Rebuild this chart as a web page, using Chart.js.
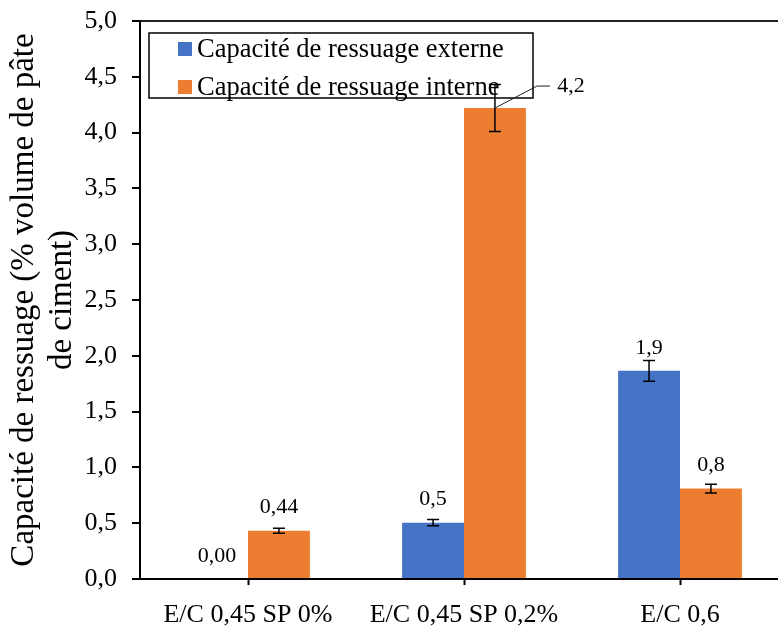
<!DOCTYPE html>
<html>
<head>
<meta charset="utf-8">
<script src="https://cdn.jsdelivr.net/npm/chart.js@4/dist/chart.umd.min.js"></script>
<style>
  html, body { margin: 0; padding: 0; background: #fff; overflow: hidden; }
  #wrap { width: 790px; height: 626px; }
</style>
</head>
<body>
<div id="wrap"><canvas id="bleeding" width="790" height="626"></canvas></div>
<script>
const categories = ["E/C 0,45 SP 0%", "E/C 0,45 SP 0,2%", "E/C 0,6"];
const seriesNames = ["Capacité de ressuage externe", "Capacité de ressuage interne"];

const externe = [0, 0.505, 1.865];
const interne = [0.433, 4.22, 0.81];
const externeErr = [0, 0.028, 0.093];
const interneErr = [0.022, 0.21, 0.04];
const externeLabels = ["0,00", "0,5", "1,9"];
const interneLabels = ["0,44", "4,2", "0,8"];

const yTicks = [0, 0.5, 1, 1.5, 2, 2.5, 3, 3.5, 4, 4.5, 5];

const serif = "'Liberation Serif', 'Times New Roman', serif";
const blue = "#4472C4";
const orange = "#ED7D31";

const errorsAndLabels = {
  id: "errorsAndLabels",
  afterDatasetsDraw(chart) {
    const ctx = chart.ctx;
    const y = chart.scales.y;
    const errs = [externeErr, interneErr];
    const labels = [externeLabels, interneLabels];

    ctx.save();
    chart.data.datasets.forEach((ds, di) => {
      const meta = chart.getDatasetMeta(di);
      meta.data.forEach((bar, i) => {
        const v = ds.data[i];
        const e = errs[di][i];
        const x = bar.x;
        // error bar
        if (e > 0) {
          const top = y.getPixelForValue(v + e);
          const bot = y.getPixelForValue(v - e);
          ctx.strokeStyle = "#000";
          ctx.lineWidth = 1.5;
          ctx.beginPath();
          ctx.moveTo(x, top);
          ctx.lineTo(x, bot);
          ctx.moveTo(x - 6, top);
          ctx.lineTo(x + 6, top);
          ctx.moveTo(x - 6, bot);
          ctx.lineTo(x + 6, bot);
          ctx.stroke();
        }
        // value label
        const barTop = y.getPixelForValue(v);
        ctx.fillStyle = "#000";
        ctx.font = "22px " + serif;
        ctx.textAlign = "center";
        ctx.textBaseline = "middle";
        if (di === 1 && i === 1) {
          // label moved aside with a leader line
          const ly = barTop - 22;
          ctx.strokeStyle = "#222";
          ctx.lineWidth = 1;
          ctx.beginPath();
          ctx.moveTo(x, barTop);
          ctx.lineTo(x + 42, ly);
          ctx.lineTo(x + 55, ly);
          ctx.stroke();
          ctx.fillText(labels[di][i], x + 76, ly);
        } else {
          ctx.fillText(labels[di][i], x, barTop - 23);
        }
      });
    });
    ctx.restore();
  },
};

const boxLegend = {
  id: "boxLegend",
  beforeDatasetsDraw(chart) {
    const ctx = chart.ctx;
    ctx.save();
    ctx.fillStyle = "#fff";
    ctx.fillRect(149, 33, 384, 65);
    ctx.strokeStyle = "#000";
    ctx.lineWidth = 1.5;
    ctx.strokeRect(149, 33, 384, 65);
    ctx.font = "26.5px " + serif;
    ctx.textAlign = "left";
    ctx.textBaseline = "middle";
    chart.data.datasets.forEach((ds, i) => {
      const cy = 49 + i * 38;
      ctx.fillStyle = ds.backgroundColor;
      ctx.fillRect(178, cy - 7, 14, 14);
      ctx.fillStyle = "#000";
      ctx.fillText(ds.label, 197, cy + 1);
    });
    ctx.restore();
  },
};

new Chart(document.getElementById("bleeding"), {
  type: "bar",
  data: {
    labels: categories,
    datasets: [
      { label: seriesNames[0], data: externe, backgroundColor: blue },
      { label: seriesNames[1], data: interne, backgroundColor: orange },
    ],
  },
  options: {
    responsive: false,
    animation: false,
    devicePixelRatio: 1,
    layout: { padding: { top: 21, right: 2, left: 0, bottom: 0 } },
    datasets: {
      bar: { categoryPercentage: 0.573, barPercentage: 1 },
    },
    plugins: {
      legend: { display: false },
      tooltip: { enabled: false },
    },
    scales: {
      x: {
        afterFit: (s) => {
          s.height = 47;
          s.paddingLeft = 0;
          s.paddingRight = 0;
        },
        grid: {
          offset: false,
          drawOnChartArea: false,
          tickColor: "#000",
          tickLength: 6,
          tickWidth: 2,
        },
        border: { color: "#000", width: 2 },
        ticks: {
          color: "#000",
          font: { family: serif, size: 26 },
          padding: 15,
          maxRotation: 0,
          autoSkip: false,
        },
      },
      y: {
        min: 0,
        max: 5,
        afterFit: (s) => {
          s.width = 140;
          s.paddingTop = 0;
          s.paddingBottom = 0;
        },
        afterBuildTicks: (s) => { s.ticks = yTicks.map((v) => ({ value: v })); },
        grid: {
          color: (c) => (c.tick && c.tick.value === 5 ? "#222" : "transparent"),
          lineWidth: 2,
          tickColor: "#000",
          tickLength: 8,
        },
        border: { color: "#000", width: 2 },
        ticks: {
          color: "#000",
          font: { family: serif, size: 26 },
          padding: 15,
          callback: (v) => v.toFixed(1).replace(".", ","),
        },
        title: {
          display: true,
          text: ["Capacité de ressuage (% volume de pâte", "de ciment)"],
          color: "#000",
          font: { family: serif, size: 33, lineHeight: 1.15 },
          padding: { top: 5, bottom: 0 },
        },
      },
    },
  },
  plugins: [boxLegend, errorsAndLabels],
});
</script>
</body>
</html>
